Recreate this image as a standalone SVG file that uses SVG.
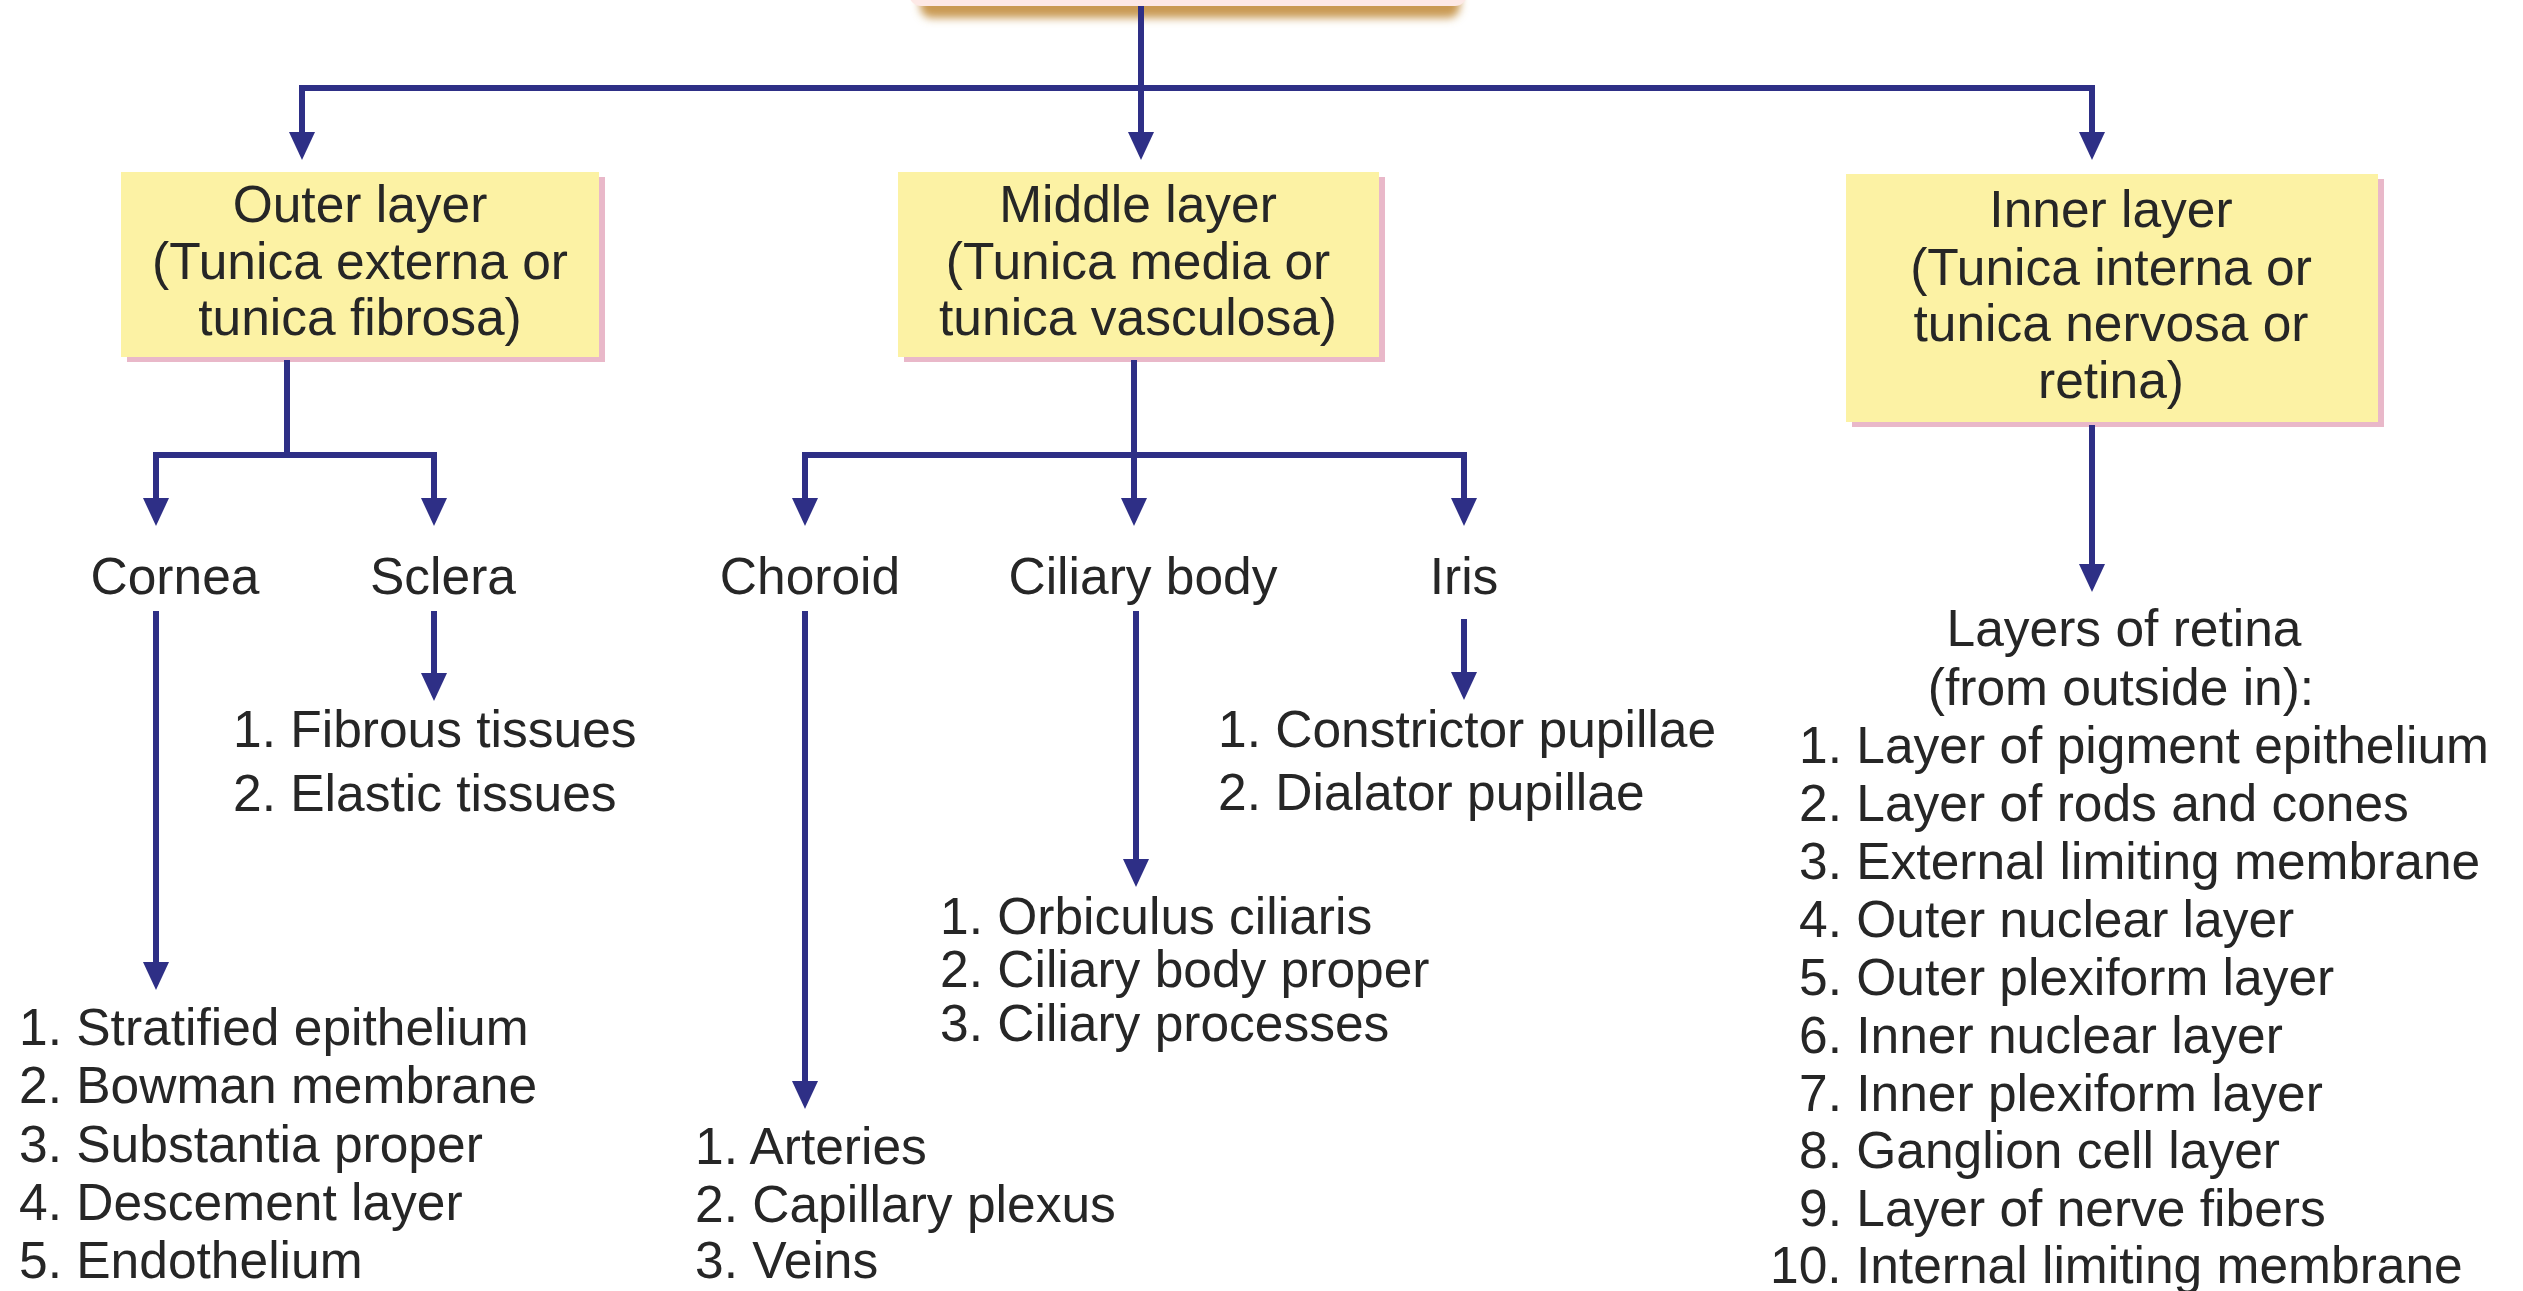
<svg xmlns="http://www.w3.org/2000/svg" width="2523" height="1291" viewBox="0 0 2523 1291">
<style>
  text { font-family: "Liberation Sans", Arial, sans-serif; font-size: 51.5px; fill: #262626; }
  .c { text-anchor: middle; }
  .box { fill: #fcf2a4; }
  .sh { fill: #e9b8c9; }
  .ln { stroke: #2e2f86; stroke-width: 6; fill: none; }
  .ar { stroke: #2e2f86; stroke-width: 6; fill: none; marker-end: url(#ah); }
</style>
<defs>
  <marker id="ah" markerUnits="userSpaceOnUse" markerWidth="28" markerHeight="26" viewBox="0 0 28 26" refX="18" refY="13" orient="auto">
    <path d="M0,0 L28,13 L0,26 z" fill="#2e2f86"/>
  </marker>
  <filter id="blur" x="-10%" y="-50%" width="120%" height="200%">
    <feGaussianBlur stdDeviation="4"/>
  </filter>
</defs>
<rect width="2523" height="1291" fill="#ffffff"/>

<g id="root">
  <rect x="920" y="-40" width="540" height="58" rx="12" fill="#c99a52" filter="url(#blur)"/>
  <rect x="909" y="-60" width="558" height="66" rx="12" fill="#fde9e6"/>
</g>

<g id="outer">
  <rect class="sh" x="127" y="177" width="478" height="185"/>
  <rect class="box" x="121" y="172" width="478" height="185"/>
  <text class="c" x="360" y="222">Outer layer</text>
  <text class="c" x="360" y="279">(Tunica externa or</text>
  <text class="c" x="360" y="335">tunica fibrosa)</text>
</g>

<g id="middle">
  <rect class="sh" x="904" y="177" width="481" height="185"/>
  <rect class="box" x="898" y="172" width="481" height="185"/>
  <text class="c" x="1138" y="222">Middle layer</text>
  <text class="c" x="1138" y="279">(Tunica media or</text>
  <text class="c" x="1138" y="335">tunica vasculosa)</text>
</g>

<g id="inner">
  <rect class="sh" x="1852" y="179" width="532" height="248"/>
  <rect class="box" x="1846" y="174" width="532" height="248"/>
  <text class="c" x="2111" y="227">Inner layer</text>
  <text class="c" x="2111" y="285">(Tunica interna or</text>
  <text class="c" x="2111" y="341">tunica nervosa or</text>
  <text class="c" x="2111" y="398">retina)</text>
</g>

<g id="cornea"><text class="c" x="175" y="594">Cornea</text></g>
<g id="sclera"><text class="c" x="443" y="594">Sclera</text></g>
<g id="choroid"><text class="c" x="810" y="594">Choroid</text></g>
<g id="ciliary"><text class="c" x="1143" y="594">Ciliary body</text></g>
<g id="iris"><text class="c" x="1464" y="594">Iris</text></g>

<g id="sclera-list">
  <text x="233" y="747">1. Fibrous tissues</text>
  <text x="233" y="811">2. Elastic tissues</text>
</g>

<g id="iris-list">
  <text x="1218" y="747">1. Constrictor pupillae</text>
  <text x="1218" y="810">2. Dialator pupillae</text>
</g>

<g id="ciliary-list">
  <text x="940" y="934">1. Orbiculus ciliaris</text>
  <text x="940" y="987">2. Ciliary body proper</text>
  <text x="940" y="1041">3. Ciliary processes</text>
</g>

<g id="cornea-list">
  <text x="19" y="1045">1. Stratified epithelium</text>
  <text x="19" y="1103">2. Bowman membrane</text>
  <text x="19" y="1162">3. Substantia proper</text>
  <text x="19" y="1220">4. Descement layer</text>
  <text x="19" y="1278">5. Endothelium</text>
</g>

<g id="choroid-list">
  <text x="695" y="1164">1. Arteries</text>
  <text x="695" y="1222">2. Capillary plexus</text>
  <text x="695" y="1278">3. Veins</text>
</g>

<g id="retina-list">
  <text class="c" x="2124" y="646">Layers of retina</text>
  <text class="c" x="2121" y="705">(from outside in):</text>
  <text x="1799" y="763">1. Layer of pigment epithelium</text>
  <text x="1799" y="821">2. Layer of rods and cones</text>
  <text x="1799" y="879">3. External limiting membrane</text>
  <text x="1799" y="937">4. Outer nuclear layer</text>
  <text x="1799" y="995">5. Outer plexiform layer</text>
  <text x="1799" y="1053">6. Inner nuclear layer</text>
  <text x="1799" y="1111">7. Inner plexiform layer</text>
  <text x="1799" y="1168">8. Ganglion cell layer</text>
  <text x="1799" y="1226">9. Layer of nerve fibers</text>
  <text x="1770" y="1283">10. Internal limiting membrane</text>
</g>

<g id="connectors">
  <path class="ln" d="M1141,6 V88 M299,88 H2095"/>
  <path class="ar" d="M302,88 V150"/>
  <path class="ar" d="M1141,88 V150"/>
  <path class="ar" d="M2092,88 V150"/>

  <path class="ln" d="M287,360 V455 M153,455 H437"/>
  <path class="ar" d="M156,455 V516"/>
  <path class="ar" d="M434,455 V516"/>

  <path class="ln" d="M1134,360 V455 M802,455 H1467"/>
  <path class="ar" d="M805,455 V516"/>
  <path class="ar" d="M1134,455 V516"/>
  <path class="ar" d="M1464,455 V516"/>

  <path class="ar" d="M156,611 V980"/>
  <path class="ar" d="M434,611 V691"/>
  <path class="ar" d="M805,611 V1099"/>
  <path class="ar" d="M1136,611 V877"/>
  <path class="ar" d="M1464,619 V690"/>
  <path class="ar" d="M2092,425 V582"/>
</g>
</svg>
